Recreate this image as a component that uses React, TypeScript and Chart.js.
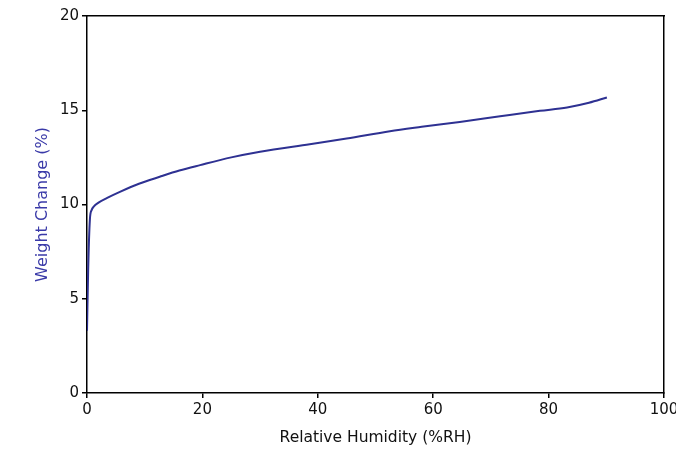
import React, { useEffect, useRef } from "react";
import { Chart, registerables } from "chart.js";

Chart.register(...registerables);

const humidity = [0, 0.2, 0.5, 0.8, 1.2, 2, 3.5, 5.7, 9, 12.6, 16, 19.6, 25, 30, 38.6, 45, 52.5, 58, 64.6, 71.6, 78.5, 83.2, 87, 90.1];
const weightChange = [3.3, 6.5, 9.2, 9.7, 9.9, 10.1, 10.35, 10.67, 11.1, 11.47, 11.8, 12.09, 12.5, 12.8, 13.2, 13.5, 13.89, 14.12, 14.38, 14.68, 14.97, 15.15, 15.4, 15.68];
const xTitle = "Relative Humidity (%RH)";
const yTitle = "Weight Change (%)";

const FONT = "'DejaVu Sans', sans-serif";

export default function App() {
  const ref = useRef<HTMLCanvasElement | null>(null);
  useEffect(() => {
    document.body.style.margin = "0";
    const canvas = ref.current!;
    const chart = new Chart(canvas, {
      type: "line",
      data: {
        datasets: [
          {
            data: humidity.map((x, i) => ({ x, y: weightChange[i] })),
            borderColor: "#2e3192",
            borderWidth: 2,
            pointRadius: 0,
            cubicInterpolationMode: "monotone",
            fill: false,
          },
        ],
      },
      options: {
        responsive: false,
        animation: false,
        layout: { padding: { left: 0, top: 16, right: 12, bottom: 0 } },
        plugins: { legend: { display: false }, tooltip: { enabled: false } },
        scales: {
          x: {
            type: "linear",
            position: "bottom",
            min: 0,
            max: 100,
            ticks: { stepSize: 20, color: "#111", font: { family: FONT, size: 15 }, padding: 3, maxRotation: 0 },
            grid: { display: true, drawOnChartArea: false, drawTicks: true, tickLength: 5, color: "#000", lineWidth: 1.5 },
            border: { display: true, color: "#000", width: 1.5 },
            title: { display: true, text: xTitle, color: "#111", font: { family: FONT, size: 15.5 }, padding: { top: 0, bottom: 4 } },
            afterFit: (s: any) => { s.height = 58; s.paddingRight = 0; s.paddingLeft = 0; },
          },
          x2: {
            type: "linear",
            position: "top",
            min: 0,
            max: 100,
            ticks: { display: false },
            grid: { display: false, drawTicks: false },
            border: { display: true, color: "#000", width: 1.5 },
            afterFit: (s: any) => { s.height = 0; s.paddingRight = 0; s.paddingLeft = 0; },
          },
          y: {
            type: "linear",
            position: "left",
            min: 0,
            max: 20,
            ticks: { stepSize: 5, color: "#111", font: { family: FONT, size: 15 }, padding: 3 },
            grid: { display: true, drawOnChartArea: false, drawTicks: true, tickLength: 5, color: "#000", lineWidth: 1.5 },
            border: { display: true, color: "#000", width: 1.5 },
            title: { display: true, text: yTitle, color: "#3a3aa8", font: { family: FONT, size: 16 }, padding: { top: 33, bottom: 0 } },
            afterFit: (s: any) => { s.width = 87; s.paddingTop = 0; s.paddingBottom = 0; },
          },
          y2: {
            type: "linear",
            position: "right",
            min: 0,
            max: 20,
            ticks: { display: false },
            grid: { display: false, drawTicks: false },
            border: { display: true, color: "#000", width: 1.5 },
            afterFit: (s: any) => { s.width = 0; s.paddingTop = 0; s.paddingBottom = 0; },
          },
        },
      },
    });
    return () => chart.destroy();
  }, []);
  return <canvas ref={ref} width={676} height={451} style={{ display: "block" }} />;
}
